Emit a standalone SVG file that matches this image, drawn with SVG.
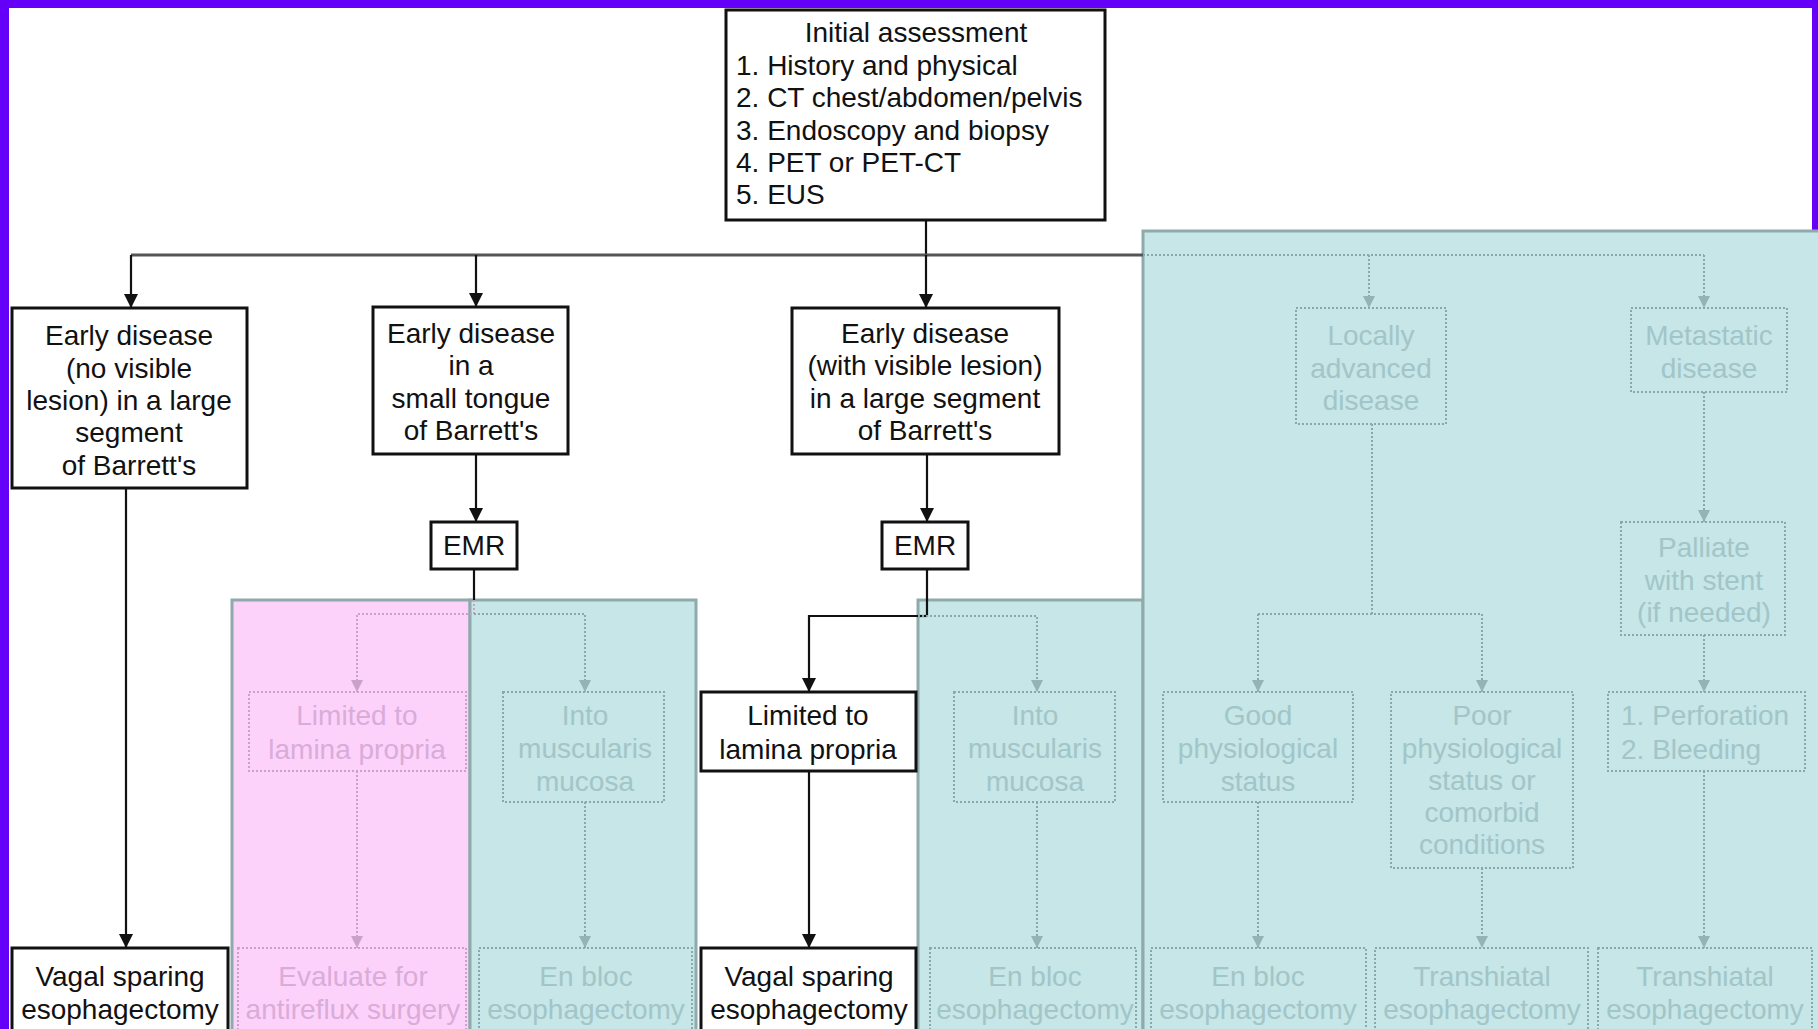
<svg xmlns="http://www.w3.org/2000/svg" width="1818" height="1029" viewBox="0 0 1818 1029">
<style>
.box{fill:#fff;stroke:#111;stroke-width:3}
.t{font-family:"Liberation Sans",Arial,sans-serif;font-size:28px;fill:#111;text-anchor:middle}
.c{fill:none;stroke:#111;stroke-width:2.2}
.fbox{fill:none;stroke:#86a9ab;stroke-width:2;stroke-dasharray:2 2}
.ft{font-family:"Liberation Sans",Arial,sans-serif;font-size:28px;fill:#a2c5c7;text-anchor:middle}
.fc{fill:none;stroke:#86a9ab;stroke-width:2;stroke-dasharray:2 2}
.pbox{fill:none;stroke:#c9a2c9;stroke-width:2;stroke-dasharray:2 2}
.pt{font-family:"Liberation Sans",Arial,sans-serif;font-size:28px;fill:#d9acd9;text-anchor:middle}
.pc{fill:none;stroke:#c9a2c9;stroke-width:2;stroke-dasharray:2 2}
.panel{stroke:#8eaaaa;stroke-width:3}
.tl{text-anchor:start}
</style>
<defs>
<marker id="arr" markerUnits="userSpaceOnUse" markerWidth="14" markerHeight="14" refX="14" refY="7" orient="auto"><path d="M0,0 L14,7 L0,14 z" fill="#111"/></marker>
<marker id="arrf" markerUnits="userSpaceOnUse" markerWidth="12" markerHeight="12" refX="12" refY="6" orient="auto"><path d="M0,0 L12,6 L0,12 z" fill="#93b4b6"/></marker>
<marker id="arrp" markerUnits="userSpaceOnUse" markerWidth="12" markerHeight="12" refX="12" refY="6" orient="auto"><path d="M0,0 L12,6 L0,12 z" fill="#c9a2c9"/></marker>
</defs>
<rect x="0" y="0" width="1818" height="1029" fill="#fff"/>
<rect x="0" y="0" width="9" height="1029" fill="#6400f8"/>
<rect x="0" y="0" width="1818" height="8" fill="#6400f8"/>
<rect x="1812" y="0" width="6" height="232" fill="#6400f8"/>

<g id="panels">
<rect class="panel" x="232" y="600" width="238" height="440" fill="#fcd2fa"/>
<rect class="panel" x="470" y="600" width="226" height="440" fill="#c6e6e8"/>
<rect class="panel" x="918" y="600" width="225" height="440" fill="#c6e6e8"/>
<rect class="panel" x="1143" y="231" width="690" height="820" fill="#c6e6e8"/>
</g>

<g id="connectors">
<path class="c" d="M926,220 V255"/>
<path d="M131,255 H1143" fill="none" stroke="#555" stroke-width="3"/>
<path class="c" d="M131,255 V308" marker-end="url(#arr)"/>
<path class="c" d="M476,255 V307" marker-end="url(#arr)"/>
<path class="c" d="M926,255 V308" marker-end="url(#arr)"/>
<path class="c" d="M126,488 V948" marker-end="url(#arr)"/>
<path class="c" d="M476,454 V522" marker-end="url(#arr)"/>
<path class="c" d="M927,454 V522" marker-end="url(#arr)"/>
<path class="c" d="M474,569 V600"/>
<path class="c" d="M927,569 V616 H809 V692" marker-end="url(#arr)"/>
<path class="c" d="M927,616 H918"/>
<path class="c" d="M809,771 V948" marker-end="url(#arr)"/>
<path class="pc" d="M474,600 V614 H357 V692" marker-end="url(#arrp)"/>
<path class="pc" d="M357,771 V948" marker-end="url(#arrp)"/>
<path class="fc" d="M474,614 H585 V692" marker-end="url(#arrf)"/>
<path class="fc" d="M585,802 V948" marker-end="url(#arrf)"/>
<path class="fc" d="M918,616 H1037 V692" marker-end="url(#arrf)"/>
<path class="fc" d="M1037,802 V948" marker-end="url(#arrf)"/>
<path class="fc" d="M1143,255 H1704"/>
<path class="fc" d="M1369,255 V308" marker-end="url(#arrf)"/>
<path class="fc" d="M1704,255 V308" marker-end="url(#arrf)"/>
<path class="fc" d="M1372,424 V614"/>
<path class="fc" d="M1258,614 H1482"/>
<path class="fc" d="M1258,614 V692" marker-end="url(#arrf)"/>
<path class="fc" d="M1482,614 V692" marker-end="url(#arrf)"/>
<path class="fc" d="M1704,392 V522" marker-end="url(#arrf)"/>
<path class="fc" d="M1704,635 V692" marker-end="url(#arrf)"/>
<path class="fc" d="M1704,771 V948" marker-end="url(#arrf)"/>
<path class="fc" d="M1258,802 V948" marker-end="url(#arrf)"/>
<path class="fc" d="M1482,868 V948" marker-end="url(#arrf)"/>
</g>

<g id="initial">
<rect class="box" x="726" y="10" width="379" height="210"/>
<text class="t" x="916" y="42">Initial assessment</text>
<text class="t tl" x="736" y="75">1. History and physical</text>
<text class="t tl" x="736" y="107">2. CT chest/abdomen/pelvis</text>
<text class="t tl" x="736" y="140">3. Endoscopy and biopsy</text>
<text class="t tl" x="736" y="172">4. PET or PET-CT</text>
<text class="t tl" x="736" y="204">5. EUS</text>
</g>

<g id="early1">
<rect class="box" x="12" y="308" width="235" height="180"/>
<text class="t" x="129" y="345">Early disease</text>
<text class="t" x="129" y="378">(no visible</text>
<text class="t" x="129" y="410">lesion) in a large</text>
<text class="t" x="129" y="442">segment</text>
<text class="t" x="129" y="475">of Barrett's</text>
</g>

<g id="early2">
<rect class="box" x="373" y="307" width="195" height="147"/>
<text class="t" x="471" y="343">Early disease</text>
<text class="t" x="471" y="375">in a</text>
<text class="t" x="471" y="408">small tongue</text>
<text class="t" x="471" y="440">of Barrett's</text>
</g>

<g id="early3">
<rect class="box" x="792" y="308" width="267" height="146"/>
<text class="t" x="925" y="343">Early disease</text>
<text class="t" x="925" y="375">(with visible lesion)</text>
<text class="t" x="925" y="408">in a large segment</text>
<text class="t" x="925" y="440">of Barrett's</text>
</g>

<g id="emr1">
<rect class="box" x="431" y="522" width="86" height="47"/>
<text class="t" x="474" y="555">EMR</text>
</g>
<g id="emr2">
<rect class="box" x="882" y="522" width="86" height="47"/>
<text class="t" x="925" y="555">EMR</text>
</g>

<g id="limited2">
<rect class="box" x="701" y="692" width="215" height="79"/>
<text class="t" x="808" y="725">Limited to</text>
<text class="t" x="808" y="759">lamina propria</text>
</g>

<g id="vagal1">
<rect class="box" x="12" y="948" width="216" height="95"/>
<text class="t" x="120" y="986">Vagal sparing</text>
<text class="t" x="120" y="1019">esophagectomy</text>
</g>
<g id="vagal2">
<rect class="box" x="701" y="948" width="215" height="95"/>
<text class="t" x="809" y="986">Vagal sparing</text>
<text class="t" x="809" y="1019">esophagectomy</text>
</g>

<g id="limited1">
<rect class="pbox" x="249" y="692" width="217" height="79"/>
<text class="pt" x="357" y="725">Limited to</text>
<text class="pt" x="357" y="759">lamina propria</text>
</g>
<g id="antireflux">
<rect class="pbox" x="238" y="948" width="228" height="95"/>
<text class="pt" x="353" y="986">Evaluate for</text>
<text class="pt" x="353" y="1019">antireflux surgery</text>
</g>

<g id="into1">
<rect class="fbox" x="503" y="692" width="161" height="110"/>
<text class="ft" x="585" y="725">Into</text>
<text class="ft" x="585" y="758">muscularis</text>
<text class="ft" x="585" y="791">mucosa</text>
</g>
<g id="enbloc1">
<rect class="fbox" x="479" y="948" width="213" height="95"/>
<text class="ft" x="586" y="986">En bloc</text>
<text class="ft" x="586" y="1019">esophagectomy</text>
</g>
<g id="into2">
<rect class="fbox" x="954" y="692" width="161" height="110"/>
<text class="ft" x="1035" y="725">Into</text>
<text class="ft" x="1035" y="758">muscularis</text>
<text class="ft" x="1035" y="791">mucosa</text>
</g>
<g id="enbloc2">
<rect class="fbox" x="930" y="948" width="206" height="95"/>
<text class="ft" x="1035" y="986">En bloc</text>
<text class="ft" x="1035" y="1019">esophagectomy</text>
</g>
<g id="locally">
<rect class="fbox" x="1296" y="308" width="150" height="116"/>
<text class="ft" x="1371" y="345">Locally</text>
<text class="ft" x="1371" y="378">advanced</text>
<text class="ft" x="1371" y="410">disease</text>
</g>
<g id="metastatic">
<rect class="fbox" x="1631" y="308" width="156" height="84"/>
<text class="ft" x="1709" y="345">Metastatic</text>
<text class="ft" x="1709" y="378">disease</text>
</g>
<g id="good">
<rect class="fbox" x="1163" y="692" width="190" height="110"/>
<text class="ft" x="1258" y="725">Good</text>
<text class="ft" x="1258" y="758">physiological</text>
<text class="ft" x="1258" y="791">status</text>
</g>
<g id="poor">
<rect class="fbox" x="1391" y="692" width="182" height="176"/>
<text class="ft" x="1482" y="725">Poor</text>
<text class="ft" x="1482" y="758">physiological</text>
<text class="ft" x="1482" y="790">status or</text>
<text class="ft" x="1482" y="822">comorbid</text>
<text class="ft" x="1482" y="854">conditions</text>
</g>
<g id="palliate">
<rect class="fbox" x="1621" y="522" width="164" height="113"/>
<text class="ft" x="1704" y="557">Palliate</text>
<text class="ft" x="1704" y="590">with stent</text>
<text class="ft" x="1704" y="622">(if needed)</text>
</g>
<g id="complications">
<rect class="fbox" x="1608" y="692" width="197" height="79"/>
<text class="ft tl" x="1621" y="725">1. Perforation</text>
<text class="ft tl" x="1621" y="759">2. Bleeding</text>
</g>
<g id="enbloc3">
<rect class="fbox" x="1151" y="948" width="215" height="95"/>
<text class="ft" x="1258" y="986">En bloc</text>
<text class="ft" x="1258" y="1019">esophagectomy</text>
</g>
<g id="transhiatal1">
<rect class="fbox" x="1375" y="948" width="213" height="95"/>
<text class="ft" x="1482" y="986">Transhiatal</text>
<text class="ft" x="1482" y="1019">esophagectomy</text>
</g>
<g id="transhiatal2">
<rect class="fbox" x="1598" y="948" width="214" height="95"/>
<text class="ft" x="1705" y="986">Transhiatal</text>
<text class="ft" x="1705" y="1019">esophagectomy</text>
</g>
</svg>
